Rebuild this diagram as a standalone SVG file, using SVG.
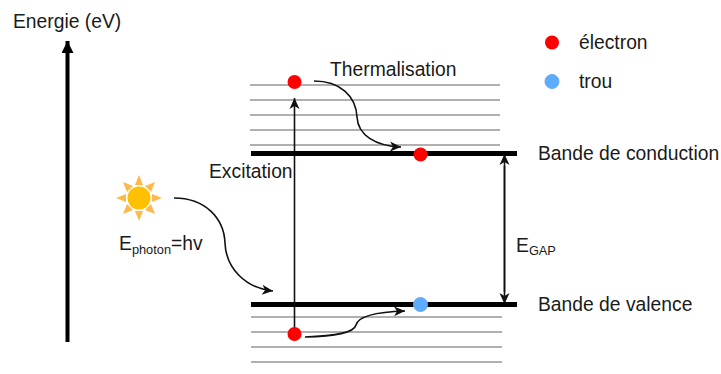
<svg xmlns="http://www.w3.org/2000/svg" width="721" height="374" viewBox="0 0 721 374">
<style>
text{font-family:"Liberation Sans",Arial,sans-serif;font-size:19.3px;fill:#1a1a1a}
.sub{font-size:12.800px}
.lvl{stroke:#b0b0b0;stroke-width:2;fill:none}
.band{stroke:#000;stroke-width:5;fill:none}
.con{stroke:#111;stroke-width:1.6;fill:none;marker-end:url(#a)}
.ray{fill:#ffb84d}
.hole{fill:#5cadff;stroke:#6aa8e8}
.el{fill:#f00}
</style>
<defs>
<marker id="a" markerUnits="userSpaceOnUse" markerWidth="14" markerHeight="12" refX="11" refY="6" orient="auto"><path d="M0 1 L11 6 L0 11 L3 6 Z" fill="#111"/></marker>
<marker id="b" markerUnits="userSpaceOnUse" markerWidth="14" markerHeight="14" refX="12" refY="6" orient="auto"><path d="M0 0 L12 6 L0 12 Z" fill="#000"/></marker>
</defs>
<rect width="721" height="374" fill="#fff"/>
<g id="levels">
<path class="lvl" d="M250 85H500M250 100H500M250 115H500M250 130H500M250 145H500"/>
<path class="lvl" d="M251 317H502M251 332H502M251 347H502M251 362H502"/>
</g>
<g id="connectors">
<path d="M67.500 342V41" stroke="#000" stroke-width="4" fill="none" marker-end="url(#b)"/>
<path class="con" d="M294.500 332V98"/>
<path class="con" d="M314 81C340 81 356 96 357 117C358 135 375 146 401 147"/>
<path class="con" d="M174 198C205 198 224 218 225 243C226 268 245 288 273 291"/>
<path class="con" d="M305 337C335 336 354 333 356 325C358 317 375 312 405 311"/>
<path class="con" d="M504.500 292V154"/>
<path class="con" d="M504.500 166V304"/>
</g>
<g id="bande-conduction"><path class="band" d="M251 153.500H517"/><text x="538" y="160">Bande de conduction</text></g>
<g id="bande-valence"><path class="band" d="M251 304.500H517"/><text x="538" y="311">Bande de valence</text></g>
<g id="axis-label"><text x="13" y="28">Energie (eV)</text></g>
<g id="thermalisation"><text x="330" y="76">Thermalisation</text></g>
<g id="excitation"><text x="209" y="178">Excitation</text></g>
<g id="ephoton"><text x="119" y="250">E<tspan class="sub" dy="4">photon</tspan><tspan dy="-4">=hv</tspan></text></g>
<g id="egap"><text x="516" y="251.500">E<tspan class="sub" dy="3">GAP</tspan></text></g>
<g id="sun">
<circle cx="139" cy="198" r="11.500" fill="#ffc000"/>
<g class="ray">
<path d="M139 175L143 185H135Z"/><path d="M139 221L143 211H135Z"/>
<path d="M116 198L126 194V202Z"/><path d="M162 198L152 194V202Z"/>
<path d="M123 182L133 186L127 192Z"/><path d="M155 182L151 192L145 186Z"/>
<path d="M123 214L127 204L133 210Z"/><path d="M155 214L145 210L151 204Z"/>
</g>
</g>
<g id="electron-top"><circle class="el" cx="294.500" cy="82" r="7"/></g>
<g id="electron-conduction"><circle class="el" cx="420.500" cy="154.500" r="7"/></g>
<g id="trou-valence"><circle class="hole" cx="420.500" cy="304.500" r="7"/></g>
<g id="electron-valence"><circle class="el" cx="294.500" cy="334" r="7"/></g>
<g id="legend-electron"><circle class="el" cx="552" cy="42.500" r="7"/><text x="579" y="49">électron</text></g>
<g id="legend-trou"><circle class="hole" cx="552" cy="81.500" r="7"/><text x="579" y="88">trou</text></g>
</svg>
